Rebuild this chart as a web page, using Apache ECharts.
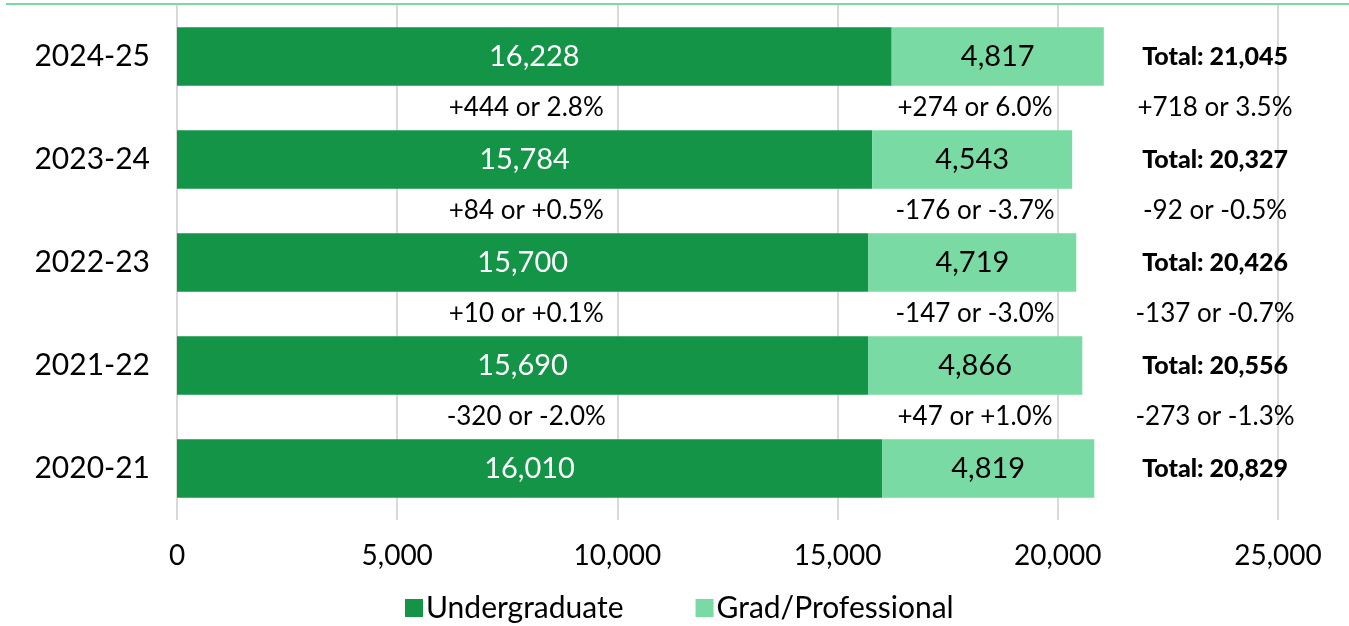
<!DOCTYPE html>
<html>
<head>
<meta charset="utf-8">
<script src="https://cdn.jsdelivr.net/npm/echarts@6/dist/echarts.min.js"></script>
<style>
  html, body { margin: 0; padding: 0; background: #fff; }
  #chart { width: 1349px; height: 626px; }
</style>
</head>
<body>
<div id="chart"></div>
<script>
const years = ['2024-25', '2023-24', '2022-23', '2021-22', '2020-21']
const undergrad = [16228, 15784, 15700, 15690, 16010]
const grad = [4817, 4543, 4719, 4866, 4819]
const totals = [21045, 20327, 20426, 20556, 20829]
// year-over-year change, shown between a year and the one before it
const undergradChange = ['+444 or 2.8%', '+84 or +0.5%', '+10 or +0.1%', '-320 or -2.0%']
const gradChange = ['+274 or 6.0%', '-176 or -3.7%', '-147 or -3.0%', '+47 or +1.0%']
const totalChange = ['+718 or 3.5%', '-92 or -0.5%', '-137 or -0.7%', '-273 or -1.3%']
const xTicks = [0, 5000, 10000, 15000, 20000, 25000]

const DARK = '#139447'
const LIGHT = '#79dba3'
const FONT = 'Lato, "Noto Sans", sans-serif'
const fmt = (v) => v.toLocaleString('en-US')

// invisible anchor points, label shifted down half a band
const changeSeries = (labels, xPos) => ({
  type: 'scatter',
  symbolSize: 0,
  silent: true,
  itemStyle: { opacity: 1 },
  data: labels.map((t, i) => ({ value: [xPos, years[i]], text: t })),
  label: {
    show: true,
    position: 'inside',
    offset: [0, 51],
    formatter: (p) => p.data.text,
    color: '#000',
    opacity: 1,
    fontFamily: FONT,
    fontSize: 26
  }
})

const chart = echarts.init(document.getElementById('chart'))
chart.setOption({
  animation: false,
  textStyle: { fontFamily: FONT },
  graphic: [{
    type: 'line',
    shape: { x1: 6, y1: 4, x2: 1349, y2: 4 },
    style: { stroke: LIGHT, lineWidth: 2 }
  }],
  grid: { left: 177, right: 71, top: 5, bottom: 106 },
  legend: {
    data: ['Undergraduate', 'Grad/Professional'],
    left: 400,
    top: 588,
    itemWidth: 18,
    itemHeight: 18,
    itemGap: 72,
    icon: 'rect',
    textStyle: { fontSize: 30, color: '#000', fontFamily: FONT, padding: [0, 0, 0, -2] }
  },
  xAxis: {
    type: 'value',
    min: xTicks[0],
    max: xTicks[xTicks.length - 1],
    interval: 5000,
    axisLine: { show: false },
    axisTick: { show: false },
    splitLine: { lineStyle: { color: '#d9d9d9', width: 2 } },
    axisLabel: {
      margin: 22,
      fontSize: 28,
      color: '#000',
      fontFamily: FONT,
      formatter: (v) => fmt(v)
    }
  },
  yAxis: {
    type: 'category',
    data: years,
    inverse: true,
    axisLine: { show: false },
    axisTick: { show: false },
    axisLabel: { margin: 27, fontSize: 30, color: '#000', fontFamily: FONT }
  },
  series: [
    {
      name: 'Undergraduate',
      type: 'bar',
      stack: 'enroll',
      barWidth: '57%',
      data: undergrad,
      itemStyle: { color: DARK },
      label: {
        show: true,
        position: 'inside',
        color: '#fff',
        fontSize: 29,
        fontFamily: FONT,
        formatter: (p) => fmt(p.value)
      }
    },
    {
      name: 'Grad/Professional',
      type: 'bar',
      stack: 'enroll',
      barWidth: '57%',
      data: grad,
      itemStyle: { color: LIGHT },
      label: {
        show: true,
        position: 'inside',
        color: '#000',
        fontSize: 29,
        fontFamily: FONT,
        formatter: (p) => fmt(p.value)
      }
    },
    {
      type: 'scatter',
      symbolSize: 0,
      silent: true,
      itemStyle: { opacity: 1 },
      data: totals.map((t, i) => ({ value: [23570, years[i]], total: t })),
      label: {
        show: true,
        position: 'inside',
        formatter: (p) => 'Total: ' + fmt(p.data.total),
        color: '#000',
        opacity: 1,
        fontWeight: 900,
        fontSize: 25,
        fontFamily: FONT
      }
    },
    changeSeries(undergradChange, 7930),
    changeSeries(gradChange, 18120),
    changeSeries(totalChange, 23570)
  ]
})
</script>
</body>
</html>
